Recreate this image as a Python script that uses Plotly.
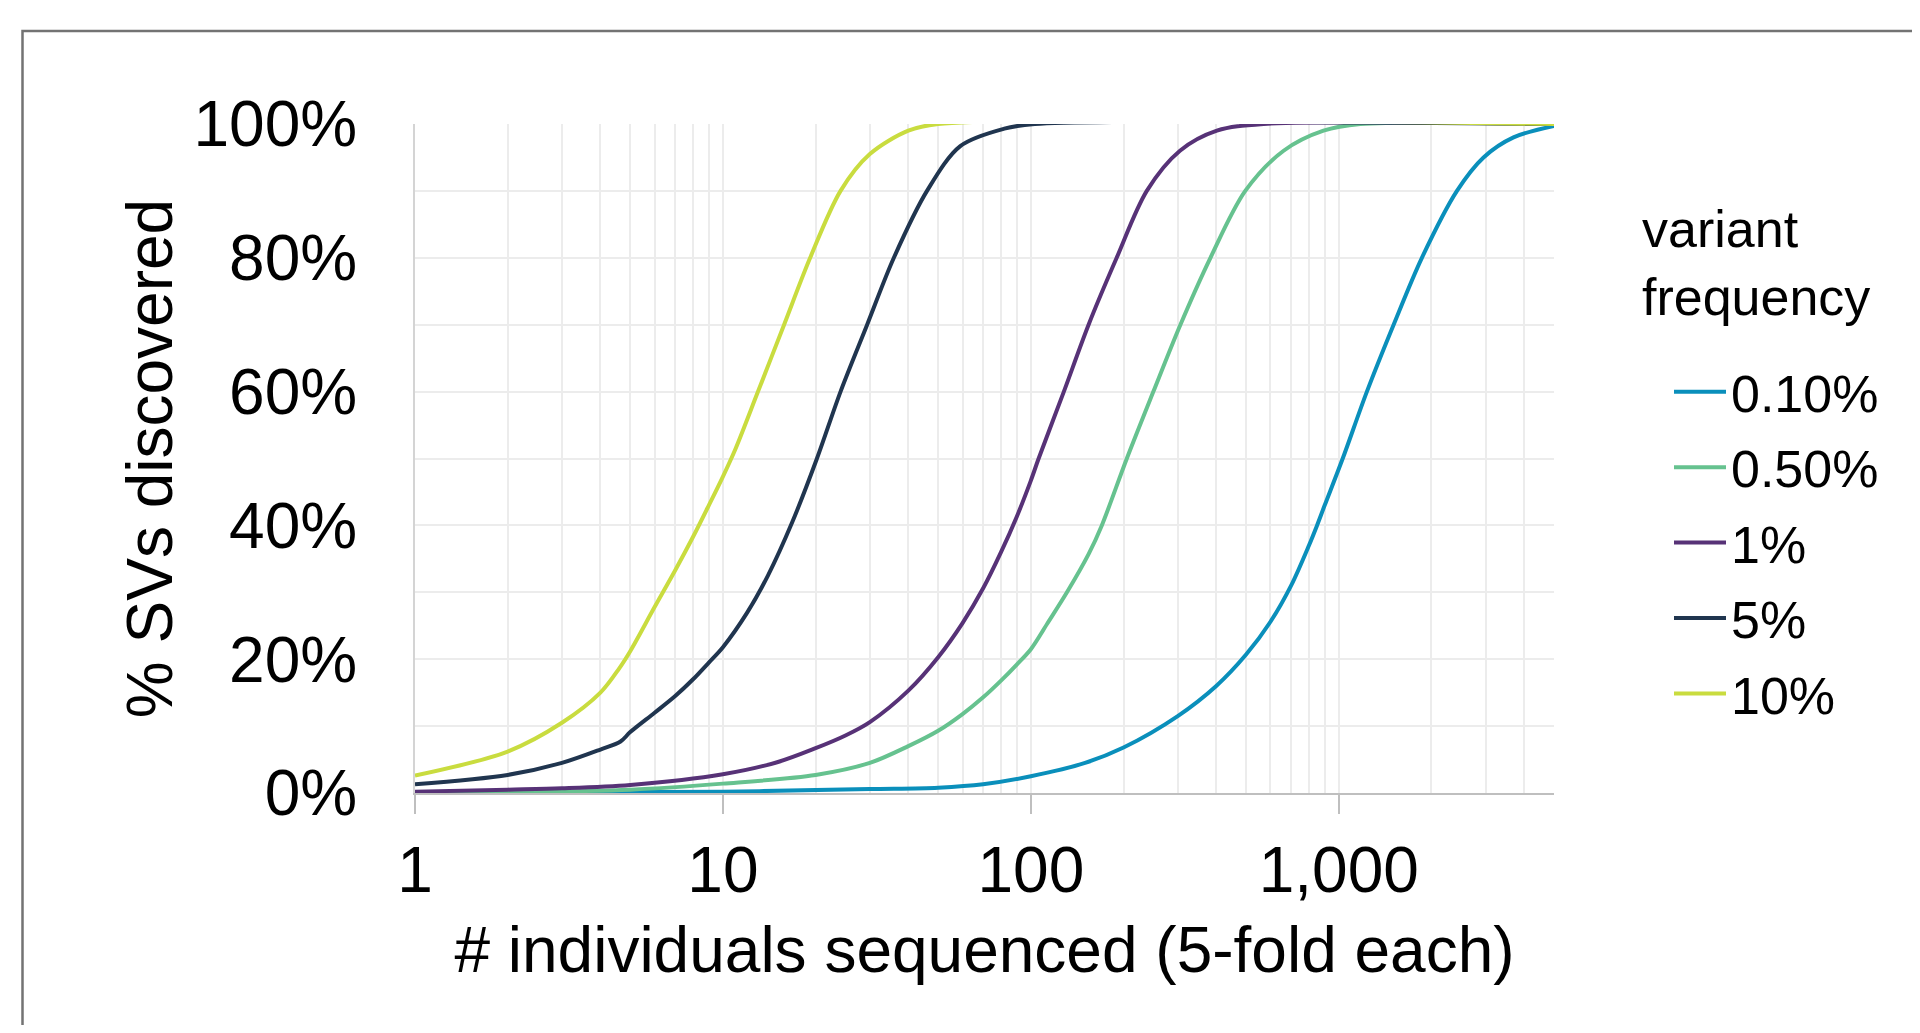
import plotly.graph_objects as go

# ---------------- data ----------------
series_names = ["0.10%", "0.50%", "1%", "5%", "10%"]
series_colors = ["#0a8fbb", "#66c28f", "#573277", "#20354f", "#c9dc3f"]

x_010 = [1, 10, 30, 50, 70, 100, 150, 200, 300, 400, 500, 600, 700, 800, 850, 900, 1030, 1234, 1507, 1862, 2420, 2952, 3694, 5000]
y_010 = [0.0, 0.002, 0.006, 0.008, 0.013, 0.025, 0.045, 0.068, 0.115, 0.16, 0.207, 0.256, 0.31, 0.37, 0.40, 0.43, 0.50, 0.60, 0.70, 0.80, 0.90, 0.95, 0.98, 0.997]

x_050 = [1, 2, 5, 10, 20, 30, 40, 50, 60, 70, 80, 90, 100, 113, 131, 154, 170, 205, 250, 306, 383, 497, 662, 892, 1175, 5000]
y_050 = [0.0, 0.001, 0.005, 0.014, 0.027, 0.045, 0.07, 0.093, 0.118, 0.143, 0.168, 0.192, 0.215, 0.253, 0.30, 0.357, 0.40, 0.50, 0.60, 0.70, 0.80, 0.90, 0.96, 0.99, 1.0, 1.0]

x_1 = [1, 2, 3, 5, 10, 15, 20, 25, 30, 40, 50, 60, 70, 80, 90, 100, 106, 128, 154, 190, 238, 305, 402, 570, 5000]
y_1 = [0.002, 0.005, 0.007, 0.012, 0.028, 0.046, 0.067, 0.086, 0.106, 0.153, 0.203, 0.254, 0.306, 0.36, 0.413, 0.467, 0.50, 0.60, 0.70, 0.80, 0.90, 0.96, 0.99, 1.0, 1.0]

x_5 = [1, 2, 3, 4, 4.65, 5, 6, 7, 8, 9, 10, 12, 14, 16.8, 20.2, 24.1, 29.4, 35.9, 46, 59, 82, 103, 5000]
y_5 = [0.013, 0.027, 0.045, 0.065, 0.077, 0.091, 0.12, 0.145, 0.17, 0.195, 0.218, 0.27, 0.325, 0.405, 0.50, 0.60, 0.70, 0.80, 0.90, 0.967, 0.993, 1.0, 1.0]

x_10 = [1, 2, 3, 4, 4.6, 5, 6, 7, 8, 9, 10, 11, 13, 15.8, 19.2, 24.1, 30, 40, 50, 5000]
y_10 = [0.026, 0.062, 0.105, 0.15, 0.186, 0.212, 0.278, 0.333, 0.383, 0.43, 0.473, 0.515, 0.60, 0.70, 0.80, 0.90, 0.955, 0.99, 1.0, 1.0]

x_tick_vals = [1, 10, 100, 1000]
x_tick_text = ["1", "10", "100", "1,000"]
x_minor_vals = [m * d for d in (1, 10, 100, 1000) for m in range(2, 10)] + [5000]
y_tick_vals = [0, 0.2, 0.4, 0.6, 0.8, 1.0]

x_title = "# individuals sequenced (5-fold each)"
y_title = "% SVs discovered"
legend_title = "variant<br>frequency"

# ---------------- figure ----------------
FONT = "Arial, 'Liberation Sans', sans-serif"
W, H = 1904, 1017          # page has an 8px body margin
L, R, T, B = 407, 358, 116, 232
PW, PH = W - L - R, H - T - B

def px_to_paper_x(px):
    return (px - L) / PW

def px_to_paper_y(py):
    return (H - B - py) / PH

xs = [x_010, x_050, x_1, x_5, x_10]
ys = [y_010, y_050, y_1, y_5, y_10]

fig = go.Figure()
for name, color, xv, yv in zip(series_names, series_colors, xs, ys):
    fig.add_trace(go.Scatter(
        x=xv, y=yv, mode="lines", name=name, legendgroup=name,
        line=dict(color=color, width=4, shape="spline", smoothing=0.9),
        cliponaxis=False,
    ))

grid_c = "#ececec"
fig.update_layout(
    width=W, height=H,
    margin=dict(l=L, r=R, t=T, b=B, autoexpand=False),
    paper_bgcolor="white", plot_bgcolor="white",
    font=dict(family=FONT, color="black", size=64),
    showlegend=True,
    legend=dict(
        x=px_to_paper_x(1661), y=px_to_paper_y(343.5), xanchor="left", yanchor="top",
        font=dict(family=FONT, size=52, color="black"),
        itemwidth=52, tracegroupgap=4.8, traceorder="grouped",
        bgcolor="rgba(0,0,0,0)", borderwidth=0,
    ),
    xaxis=dict(
        type="log", range=[0, 3.69897],
        tickmode="array", tickvals=x_tick_vals, ticktext=x_tick_text,
        ticks="outside", ticklen=19, tickwidth=2, tickcolor="#bfbfbf",
        tickfont=dict(family=FONT, size=64, color="black"),
        ticklabelstandoff=1,
        showgrid=True, gridcolor=grid_c, gridwidth=2,
        showline=True, linecolor="#bfbfbf", linewidth=2,
        minor=dict(tickmode="array", tickvals=x_minor_vals, showgrid=True,
                   gridcolor=grid_c, gridwidth=2, ticks=""),
        zeroline=False,
        title=dict(text=x_title, font=dict(family=FONT, size=64, color="black"), standoff=22),
    ),
    yaxis=dict(
        range=[0, 1],
        tickmode="array", tickvals=y_tick_vals, tickformat=".0%",
        ticks="", tickfont=dict(family=FONT, size=64, color="black"),
        ticklabelstandoff=43,
        showgrid=True, gridcolor=grid_c, gridwidth=2,
        showline=True, linecolor="#d4d4d4", linewidth=2,
        minor=dict(dtick=0.1, showgrid=True, gridcolor=grid_c, gridwidth=2, ticks=""),
        zeroline=False,
        title=dict(text=y_title, font=dict(family=FONT, size=64, color="black"), standoff=0),
    ),
    annotations=[dict(
        text=legend_title, xref="paper", yref="paper",
        x=px_to_paper_x(1632), y=px_to_paper_y(190), xanchor="left", yanchor="top",
        showarrow=False, align="left",
        font=dict(family=FONT, size=52, color="black"),
    )],
    shapes=[dict(
        type="rect", xref="paper", yref="paper",
        x0=px_to_paper_x(14.5), x1=px_to_paper_x(2100),
        y0=px_to_paper_y(1200), y1=px_to_paper_y(23),
        line=dict(color="#737373", width=2.5), fillcolor="rgba(0,0,0,0)", layer="below",
    )],
)

fig.write_html("out.html")
